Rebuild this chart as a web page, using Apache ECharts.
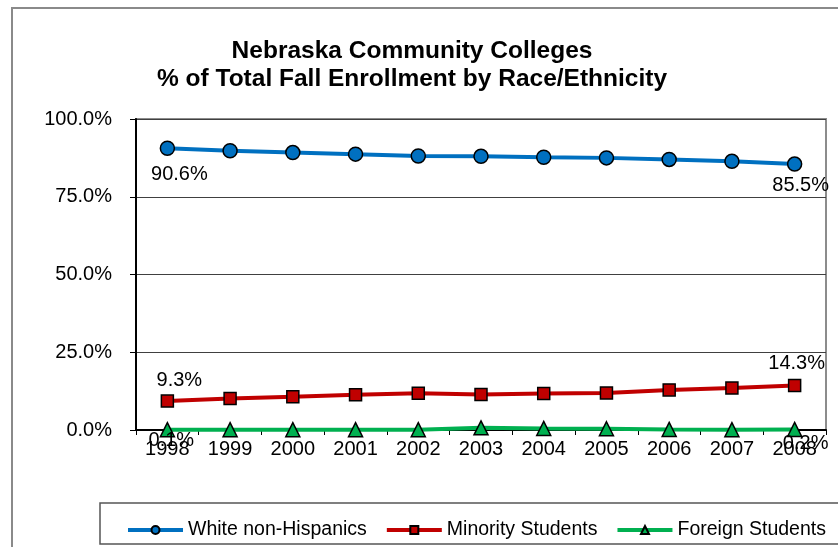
<!DOCTYPE html>
<html>
<head>
<meta charset="utf-8">
<script src="https://cdn.jsdelivr.net/npm/echarts@6/dist/echarts.min.js"></script>
<style>
html,body{margin:0;padding:0;background:#fff;}
#chart{width:838px;height:547px;}
</style>
</head>
<body>
<div id="chart"></div>
<script>
var years = ['1998','1999','2000','2001','2002','2003','2004','2005','2006','2007','2008'];
var whiteNonHispanics = [90.6, 89.8, 89.2, 88.7, 88.1, 88.0, 87.7, 87.5, 87.0, 86.4, 85.5];
var minorityStudents = [9.3, 10.1, 10.7, 11.3, 11.8, 11.4, 11.7, 11.9, 12.9, 13.5, 14.3];
var foreignStudents = [0.1, 0.1, 0.1, 0.1, 0.1, 0.7, 0.5, 0.4, 0.2, 0.1, 0.2];
var seriesNames = ['White non-Hispanics', 'Minority Students', 'Foreign Students'];
var yTicks = [0, 25, 50, 75, 100];

var FONT = "'Liberation Sans', Arial, sans-serif";

function withEndLabels(values, firstOffset, lastOffset) {
  return values.map(function (v, i) {
    if (i === 0 || i === values.length - 1) {
      return {
        value: v,
        label: {
          show: true,
          position: 'inside',
          offset: i === 0 ? firstOffset : lastOffset,
          formatter: function (p) { return p.value.toFixed(1) + '%'; },
          fontFamily: FONT, fontSize: 20, color: '#000'
        }
      };
    }
    return v;
  });
}

var chart = echarts.init(document.getElementById('chart'), null, {renderer: 'canvas'});
chart.setOption({
  animation: false,
  backgroundColor: '#fff',
  title: {
    text: 'Nebraska Community Colleges\n% of Total Fall Enrollment by Race/Ethnicity',
    left: 407, top: 32, textAlign: 'center',
    textStyle: {fontFamily: FONT, fontSize: 24.5, fontWeight: 'bold', color: '#000', lineHeight: 28}
  },
  graphic: [
    {type: 'rect', shape: {x: 12, y: 8, width: 900, height: 700}, style: {fill: 'none', stroke: '#8a8a8a', lineWidth: 2}, z: -10},
    {type: 'rect', shape: {x: 100, y: 503, width: 800, height: 41}, style: {fill: 'none', stroke: '#555', lineWidth: 1.5}, z: -5}
  ],
  legend: {
    data: seriesNames,
    left: 121, top: 515,
    itemWidth: 55, itemHeight: 10, itemGap: 18,
    lineStyle: {width: 4},
    textStyle: {fontFamily: FONT, fontSize: 19.5, color: '#000'}
  },
  grid: {
    left: 136, right: 12, top: 119, bottom: 117,
    show: true, borderColor: '#8c8c8c', borderWidth: 2,
    containLabel: false
  },
  xAxis: {
    type: 'category', data: years, boundaryGap: true,
    axisLine: {lineStyle: {color: '#000', width: 2}},
    axisTick: {show: true, alignWithLabel: false, length: 5, lineStyle: {color: '#000'}},
    axisLabel: {fontFamily: FONT, fontSize: 20, color: '#000', margin: 9}
  },
  yAxis: {
    type: 'value', min: yTicks[0], max: yTicks[yTicks.length - 1], interval: 25,
    axisLine: {show: true, lineStyle: {color: '#000', width: 2}},
    axisTick: {show: true, length: 6, lineStyle: {color: '#000'}},
    axisLabel: {fontFamily: FONT, fontSize: 20, color: '#000', margin: 24,
      formatter: function (v) { return v.toFixed(1) + '%'; }},
    splitLine: {show: true, lineStyle: {color: '#404040', width: 1}}
  },
  series: [
    {
      name: seriesNames[0], type: 'line',
      data: withEndLabels(whiteNonHispanics, [12, 26], [6, 21]),
      symbol: 'circle', symbolSize: 14,
      lineStyle: {color: '#0070C0', width: 4},
      itemStyle: {color: '#0070C0', borderColor: '#000', borderWidth: 1.5},
      z: 3
    },
    {
      name: seriesNames[1], type: 'line',
      data: withEndLabels(minorityStudents, [12, -21], [2, -22]),
      symbol: 'rect', symbolSize: 12,
      lineStyle: {color: '#C00000', width: 4},
      itemStyle: {color: '#C00000', borderColor: '#000', borderWidth: 1.5},
      z: 3
    },
    {
      name: seriesNames[2], type: 'line',
      data: withEndLabels(foreignStudents, [4, 11], [11, 14]),
      symbol: 'triangle', symbolSize: 14,
      lineStyle: {color: '#00B050', width: 4},
      itemStyle: {color: '#00B050', borderColor: '#000', borderWidth: 1.5},
      z: 3
    }
  ]
});
</script>
</body>
</html>
